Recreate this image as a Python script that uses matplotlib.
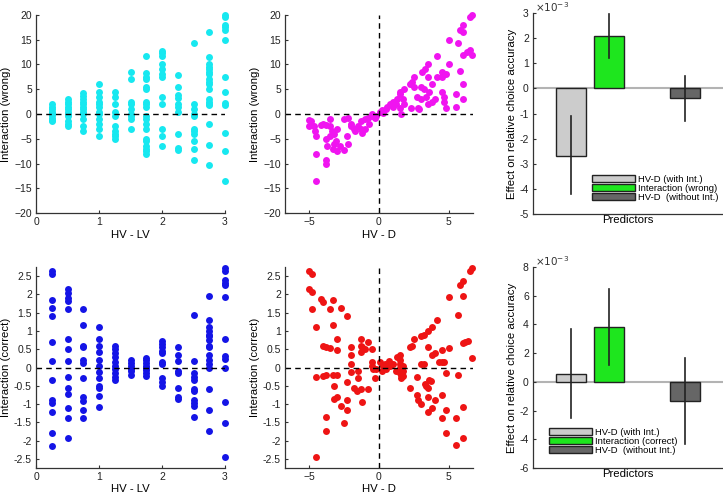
import numpy as np
import matplotlib
matplotlib.use('Agg')
from matplotlib import pyplot as plt
from matplotlib.ticker import FuncFormatter

plt.rcParams['font.family'] = ['Liberation Sans', 'DejaVu Sans']
plt.rcParams['xtick.direction'] = 'in'
plt.rcParams['ytick.direction'] = 'in'

# ---- data: top row, interaction (wrong) vs HV - LV, per column
lv_levels = [0.25, 0.5, 0.75, 1.0, 1.25, 1.5, 1.75, 2.0, 2.25, 2.5, 2.75, 3.0]
wrong_cols = [
    [2, 1.5, 1, 0.5, 0.2, 0, -0.3, -0.8, -1.2, -1.5],
    [3, 2.5, 2, 1.5, 1, 0.5, 0, -0.5, -1.5, -2, -2.5],
    [4.2, 3.6, 3, 2.5, 2, 1.5, 1, 0.5, 0, -1, -2.5, -3.5],
    [6, 4.5, 3.5, 2.5, 2, 1.5, 0.5, 0, -1, -2, -3, -4.5],
    [4.5, 3.5, 2, 0.5, -0.5, -2.5, -3.5, -4, -4.5, -5],
    [8.5, 7, 2.5, 2, 1, 0, -0.5, -1, -3],
    [11.8, 8.2, 7.5, 7, 5.5, 5, 2.5, 2, 1.5, -0.5, -1, -2, -3, -5, -5.5, -6.5, -7, -7.5, -8],
    [12.8, 12.3, 11.8, 10, 9, 8, 7.5, 3.5, 2, -3, -4.5, -6.5],
    [7.8, 5.5, 3.8, 3.2, 2, 1.5, 0.5, -4, -6.8, -7.2],
    [14.3, 2, 1, 0, -0.5, -3, -3.5, -4, -5.5, -7, -9.3],
    [16.5, 11.6, 10, 9.5, 9, 8.5, 8, 7, 6.5, 6, 5, 3, 2.5, 2, 1.8, -2, -6.2, -10.3],
    [20, 19.5, 18, 17.5, 17, 15, 7.5, 4.5, 2.2, 1.8, -3.8, -7.5, -13.6],
]

# interaction (wrong) vs HV - D
hvd_wrong_x = [-5, -4.9, -5, -4.7, -4.6, -4.5, -4.5, -4.5, -4.2, -4, -3.8, -3.5, -3.5, -3.8, -3.7,
               -3.8, -3.8, -3.5, -3.4, -3.2, -3, -3.2, -3.3, -3, -3.1, -2.8, -2.5, -2.5, -2.2, -2.3,
               -2.2, -2, -2, -1.8, -1.7, -1.5, -1.3, -1.2, -1, -1.3, -1, -0.8, -0.7, -0.5, -0.3,
               -0.2, -0.5,
               0.1, 0.2, 0.3, 0.5, 0.6, 0.8, 1, 1, 1.2, 1.3, 1.5, 1.5, 1.5, 1.6, 1.7, 1.8, 1.8,
               2.2, 2.3, 2.5, 2.5, 2.4, 2.8, 2.9, 2.7, 3, 3.1, 3, 3.2, 3.3, 3.5, 3.5, 3.5, 3.4,
               3.6, 3.8, 3.8, 4, 4.2, 4.2, 4.5, 4.5, 4.5, 4.7, 4.7, 4.8, 4.8, 5, 5, 5.5, 5.5,
               5.7, 5.8, 5.8, 6, 6, 6, 6, 6, 6.3, 6.5, 6.5, 6.7, 6.7]
hvd_wrong_y = [-1.2, -1.5, -2.5, -2.5, -3.5, -4.5, -8, -13.5, -2.2, -2, -2.2, -1, -2.5, -5, -6.5,
               -9.3, -10.2, -4.5, -3.5, -4, -3, -6, -7, -7.5, -5.5, -6.5, -7.3, -1, -0.8, -4.5,
               -6, -2, -2.5, -3, -3.5, -2.5, -3, -3.8, -3, -1.5, -1, -0.8, -2, -0.5, -0.8,
               -0.5, 0,
               0.5, 0.8, 0.2, 1, 1.5, 2, 1.5, 2.5, 2, 3, 4, 4.5, 1.2, 0, 3, 5, 2,
               6, 1.2, 7.5, 5.5, 6.5, 1.2, 1, 3.5, 3, 8.5, 5.5, 5, 9, 10, 2, 7.5, 3.5,
               4.5, 6, 2.5, 3, 7.5, 11.8, 4.5, 8.5, 7.5, 3.5, 2.5, 1.3, 8, 10, 15, 1.5, 4,
               14.3, 8.6, 17, 18, 16.5, 12, 6, 3, 12.5, 13, 19.5, 20, 12]

# ---- data: bottom row, interaction (correct) vs HV - LV
correct_cols = [
    [2.65, 2.55, 1.85, 1.62, 1.4, 0.7, 0.18, -0.33, -0.9, -0.98, -1.22, -1.8, -2.15],
    [2.15, 2.05, 1.9, 1.82, 1.6, 0.77, 0.5, 0.18, -0.27, -0.55, -0.73, -1.1, -1.38, -1.93],
    [1.6, 1.17, 0.6, 0.55, 0.2, 0.13, -0.28, -0.8, -0.93, -1.15, -1.37],
    [1.1, 0.78, 0.58, 0.42, 0.2, 0.05, -0.13, -0.3, -0.5, -0.57, -0.77, -1.08],
    [0.6, 0.5, 0.4, 0.3, 0.15, 0.05, -0.05, -0.15, -0.25, -0.35],
    [0.2, 0.12, 0.05, -0.05, -0.1, -0.2],
    [0.27, 0.2, 0.12, 0.05, 0, -0.07, -0.15, -0.23],
    [0.72, 0.65, 0.55, 0.45, 0.4, 0.15, 0.1, -0.3, -0.4, -0.5],
    [0.57, 0.35, 0.18, -0.1, -0.15, -0.55, -0.82, -0.87],
    [1.45, 0.18, -0.15, -0.25, -0.33, -0.6, -0.65, -0.9, -0.97, -1.05, -1.35],
    [1.95, 1.3, 1.1, 1.0, 0.9, 0.85, 0.75, 0.6, 0.55, 0.35, 0.2, 0.1, 0, -0.6, -1.15, -1.73],
    [2.72, 2.65, 2.4, 2.32, 2.27, 1.93, 0.77, 0.32, 0.23, 0.0, -0.95, -1.52, -2.45],
]

hvd_correct = [
    (-5, 2.65), (-4.8, 2.55), (-5, 2.15), (-4.8, 2.07), (-4.8, 1.6), (-4.5, 1.1), (-4.5, -0.25),
    (-4.5, -2.45), (-4.2, 1.87), (-4, 1.8), (-4, 0.6), (-3.8, 0.55), (-3.8, -0.2), (-4, -0.22),
    (-3.8, -1.35), (-3.8, -1.73), (-3.5, 1.6), (-3.5, 0.52), (-3.3, 1.85), (-3.3, 1.17),
    (-3.3, -0.2), (-3.2, -0.5), (-3.2, -0.85), (-3, 0.78), (-3, 0.48), (-3, -0.2), (-3, -0.8),
    (-2.7, 1.62), (-2.7, -1.05), (-2.5, -1.52), (-2.3, 1.4), (-2.3, -0.4), (-2.3, -0.9),
    (-2.3, -1.15), (-2, 0.57), (-2, 0.35), (-2, 0.1), (-2, -0.13), (-1.8, -0.55), (-1.6, -0.65),
    (-1.5, -0.1), (-1.5, -0.3), (-1.3, 0.77), (-1.3, 0.6), (-1.3, 0.42), (-1.2, 0.55),
    (-1.3, -0.6), (-1.2, -0.95), (-1, 0.5), (-0.8, 0.7), (-0.8, -0.6), (-0.5, 0.5), (-0.5, 0.15),
    (-0.5, 0.05), (-0.4, -0.05), (-0.3, -0.3), (-0.2, -0.05),
    (0.1, 0.15), (0.2, -0.1), (0.3, 0.05), (0.4, 0.1), (0.5, -0.05), (0.7, 0.18), (0.8, 0.05),
    (1, 0.1), (1.2, -0.1), (1.3, 0.3), (1.5, 0.35), (1.5, 0.2), (1.5, 0.1), (1.5, 0),
    (1.5, -0.15), (1.6, -0.2), (1.6, -0.3), (1.7, 0.05), (1.7, -0.1), (1.7, -0.22), (2.2, 0.55),
    (2.2, -0.55), (2.5, 0.78), (2.4, 0.6), (2.7, -0.25), (2.7, -0.75), (2.8, -0.9), (3, -1.0),
    (3, 0.1), (3, 0.85), (3.2, 0.9), (3.2, 0.1), (3.3, -0.45), (3.4, -0.5), (3.5, 1.0),
    (3.5, 0.55), (3.5, -0.55), (3.5, -0.8), (3.5, -1.22), (3.6, -0.35), (3.7, -0.38), (3.8, 1.1),
    (3.8, 0.35), (3.8, -1.1), (4, 0.4), (4, -0.9), (4.2, 1.3), (4.3, 0.15), (4.5, 0.47),
    (4.5, 0.15), (4.5, -0.75), (4.5, -1.37), (4.7, 0.15), (4.8, -0.15), (4.8, -1.15),
    (4.8, -1.8), (5, 1.93), (5, 0.53), (5.5, -1.38), (5.5, -2.13), (5.7, 1.45), (5.7, -0.2),
    (5.8, 2.27), (6, 2.38), (6, 1.95), (6, 0.67), (6, -1.07), (6, -1.92), (6.2, 0.7),
    (6.4, 0.72), (6.5, 2.63), (6.7, 2.72), (6.7, 0.27),
]

# ---- data: regression coefficients
predictors = ['HV-D (with Int.)', 'Interaction (wrong)', 'HV-D  (without Int.)']
predictors_c = ['HV-D (with Int.)', 'Interaction (correct)', 'HV-D  (without Int.)']
bar_pos = [1, 2, 4]
coef_wrong = [-2.7e-3, 2.1e-3, -0.4e-3]
ci_wrong_lo = [-4.2e-3, 1.2e-3, -1.3e-3]
ci_wrong_hi = [-1.1e-3, 2.95e-3, 0.5e-3]
coef_correct = [0.55e-3, 3.85e-3, -1.35e-3]
ci_correct_lo = [-2.5e-3, 1.2e-3, -4.3e-3]
ci_correct_hi = [3.65e-3, 6.5e-3, 1.65e-3]
bar_colors = ['#cccccc', '#1ee61e', '#666666']

TICK = 7.5
LAB = 8.2
MS = 5.0

fig = plt.figure(figsize=(7.23, 4.93), dpi=100)
W, H = 723.0, 493.0

def ax_at(l, t, r, b):
    return fig.add_axes([l / W, 1 - b / H, (r - l) / W, (b - t) / H])

def style(ax):
    ax.spines['top'].set_visible(False)
    ax.spines['right'].set_visible(False)
    for s in ['left', 'bottom']:
        ax.spines[s].set_color('#333333')
        ax.spines[s].set_linewidth(0.9)
    ax.tick_params(labelsize=TICK, colors='#333333', length=2.5, pad=3, labelcolor='#222222')

def scatter_cols(ax, cols, col):
    for xv, ys in zip(lv_levels, cols):
        ax.plot([xv] * len(ys), ys, 'o', color=col, ms=MS, mec='none', clip_on=False)

def dashed_zero(ax, vertical=False):
    ax.axhline(0, color='k', lw=1, dashes=(4, 3))
    if vertical:
        ax.axvline(0, color='k', lw=1, dashes=(4, 3))

# top left
ax1 = ax_at(36, 15, 225, 213)
scatter_cols(ax1, wrong_cols, '#17e8f0')
dashed_zero(ax1)
ax1.set_xlim(0, 3); ax1.set_ylim(-20, 20)
ax1.set_xticks([0, 1, 2, 3]); ax1.set_yticks(range(-20, 21, 5))
ax1.set_xlabel('HV - LV', fontsize=LAB, labelpad=2)
ax1.set_ylabel('Interaction (wrong)', fontsize=LAB, labelpad=2)
style(ax1)

# top middle
ax2 = ax_at(285, 15, 473, 213)
ax2.plot(hvd_wrong_x, hvd_wrong_y, 'o', color='#f014f0', ms=MS, mec='none', clip_on=False)
dashed_zero(ax2, True)
ax2.set_xlim(-6.75, 6.75); ax2.set_ylim(-20, 20)
ax2.set_xticks([-5, 0, 5]); ax2.set_yticks(range(-20, 21, 5))
ax2.set_xlabel('HV - D', fontsize=LAB, labelpad=2)
ax2.set_ylabel('Interaction (wrong)', fontsize=LAB, labelpad=2)
style(ax2)

yl_c = ['-2.5', '-2', '-1.5', '-1', '-0.5', '0', '0.5', '1', '1.5', '2', '2.5']

# bottom left
ax4 = ax_at(36, 267, 225, 468)
scatter_cols(ax4, correct_cols, '#1414e6')
dashed_zero(ax4)
ax4.set_xlim(0, 3); ax4.set_ylim(-2.75, 2.75)
ax4.set_xticks([0, 1, 2, 3]); ax4.set_yticks(np.arange(-2.5, 2.6, 0.5))
ax4.set_yticklabels(yl_c)
ax4.set_xlabel('HV - LV', fontsize=LAB, labelpad=1)
ax4.set_ylabel('Interaction (correct)', fontsize=LAB, labelpad=2)
style(ax4)

# bottom middle
ax5 = ax_at(285, 267, 473, 468)
cx, cy = zip(*hvd_correct)
ax5.plot(cx, cy, 'o', color='#ee1414', ms=MS, mec='none', clip_on=False)
dashed_zero(ax5, True)
ax5.set_xlim(-6.75, 6.75); ax5.set_ylim(-2.75, 2.75)
ax5.set_xticks([-5, 0, 5]); ax5.set_yticks(np.arange(-2.5, 2.6, 0.5))
ax5.set_yticklabels(yl_c)
ax5.set_xlabel('HV - D', fontsize=LAB, labelpad=1)
ax5.set_ylabel('Interaction (correct)', fontsize=LAB, labelpad=2)
style(ax5)

def bars(ax, coef, lo, hi, labels, ylim, yt, leg_anchor):
    ax.axhline(0, color='#b3b3b3', lw=1.5, zorder=0)
    for p, c, l, h, col, lab in zip(bar_pos, coef, lo, hi, bar_colors, labels):
        ax.bar(p, c, width=0.8, color=col, edgecolor='#222222', linewidth=1, label=lab, zorder=2)
        ax.plot([p, p], [l, h], color='#222222', lw=1.2, zorder=3)
    ax.set_xlim(0, 5); ax.set_ylim(*ylim)
    ax.set_xticks([])
    ax.set_yticks(yt)
    ax.yaxis.set_major_formatter(FuncFormatter(lambda v, p: '%g' % round(v * 1000, 6)))
    ax.text(0.01, 0.995, r'$\times10^{-3}$', transform=ax.transAxes, fontsize=TICK,
            color='#333333', va='bottom', ha='left')
    ax.set_xlabel('Predictors', fontsize=LAB, labelpad=1)
    ax.set_ylabel('Effect on relative choice accuracy', fontsize=LAB, labelpad=2)
    style(ax)
    ax.legend(loc='upper left', bbox_to_anchor=leg_anchor, frameon=False, fontsize=6.8,
              handlelength=4.6, handleheight=0.7, handletextpad=0.25, labelspacing=0.0,
              borderaxespad=0, borderpad=0)

ax3 = ax_at(533, 13, 723, 214)
bars(ax3, coef_wrong, ci_wrong_lo, ci_wrong_hi, predictors, (-5e-3, 3e-3),
     np.arange(-5, 4) * 1e-3, (0.31, 0.195))

ax6 = ax_at(533, 267, 723, 468)
bars(ax6, coef_correct, ci_correct_lo, ci_correct_hi, predictors_c, (-6e-3, 8e-3),
     np.arange(-6, 9, 2) * 1e-3, (0.084, 0.2))

fig.savefig('out.png', dpi=100)
